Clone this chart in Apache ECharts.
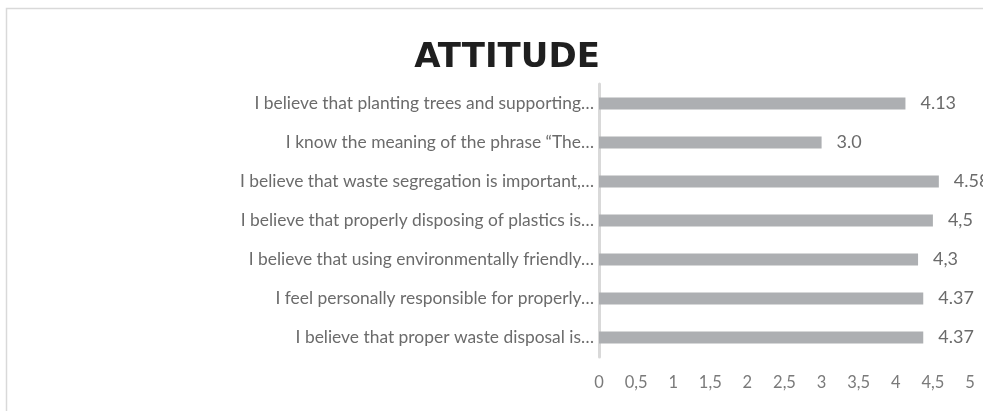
<!DOCTYPE html>
<html>
<head>
<meta charset="utf-8">
<script src="https://cdn.jsdelivr.net/npm/echarts@6/dist/echarts.min.js"></script>
<style>
html,body{margin:0;padding:0;background:#fff;}
#chart{width:983px;height:411px;}
</style>
</head>
<body>
<div id="chart"></div>
<script>
const titleText = "ATTITUDE";
const categories = [
  "I believe that planting trees and supporting…",
  "I know the meaning of the phrase “The…",
  "I believe that waste segregation is important,…",
  "I believe that properly disposing of plastics is…",
  "I believe that using environmentally friendly…",
  "I feel personally responsible for properly…",
  "I believe that proper waste disposal is…"
];
const values = [4.13, 3.0, 4.58, 4.5, 4.3, 4.37, 4.37];
const valueLabels = ["4.13", "3.0", "4.58", "4,5", "4,3", "4.37", "4.37"];
const tickLabels = ["0", "0,5", "1", "1,5", "2", "2,5", "3", "3,5", "4", "4,5", "5"];

const chart = echarts.init(document.getElementById('chart'), null, {renderer: 'canvas'});
chart.setOption({
  animation: false,
  backgroundColor: '#ffffff',
  title: {
    text: titleText,
    left: 502,
    textAlign: 'center',
    top: 36,
    textStyle: {fontFamily: 'DejaVu Sans', fontWeight: 'bold', fontSize: 34, color: '#1f1f1f'}
  },
  graphic: [{
    type: 'rect', silent: true,
    shape: {x: 6.5, y: 8.5, width: 1200, height: 800},
    style: {fill: 'none', stroke: '#d9d9d9', lineWidth: 1.5}
  }],
  grid: {left: 599, right: 13, top: 84, bottom: 54, containLabel: false},
  xAxis: {
    type: 'value', min: 0, max: 5, interval: 0.5,
    axisLine: {show: false}, axisTick: {show: false}, splitLine: {show: false},
    axisLabel: {
      color: '#7a7a7a', fontFamily: 'Lato', fontSize: 16.5, margin: 17,
      formatter: (v, i) => tickLabels[Math.round(v / 0.5)]
    }
  },
  yAxis: {
    type: 'category', data: categories, inverse: true,
    axisLine: {show: true, lineStyle: {color: '#d9d9d9', width: 3}},
    axisTick: {show: false},
    axisLabel: {color: '#6b6b6b', fontFamily: 'Lato', fontSize: 17.4, margin: 5}
  },
  series: [{
    type: 'bar', data: values, barWidth: 12,
    itemStyle: {color: '#adafb2'},
    label: {
      show: true, position: 'right', distance: 15,
      color: '#6b6b6b', fontFamily: 'Lato', fontSize: 18,
      formatter: p => valueLabels[p.dataIndex]
    }
  }]
});
</script>
</body>
</html>
